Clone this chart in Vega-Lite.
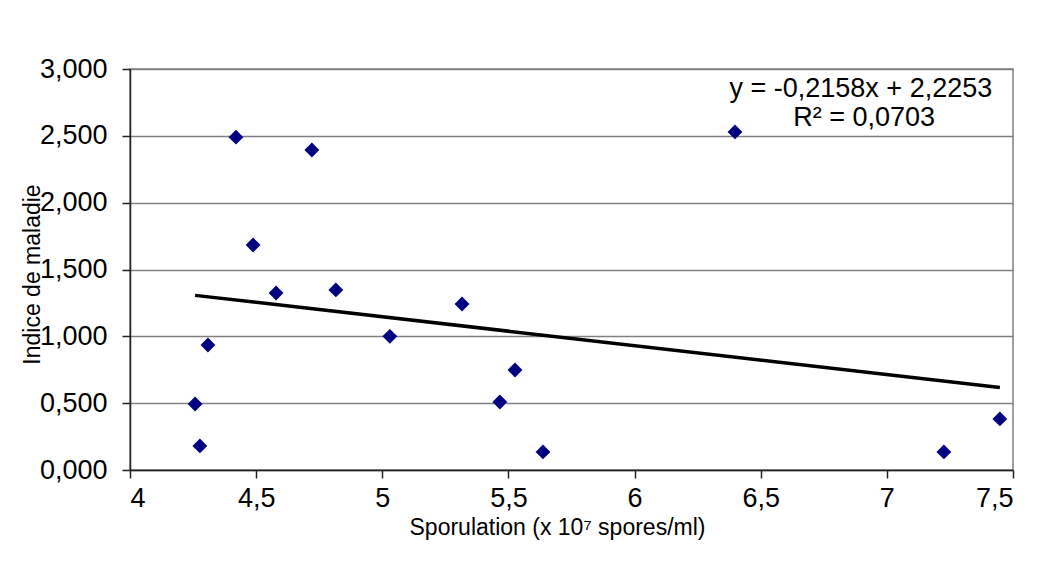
{
  "$schema": "https://vega.github.io/schema/vega-lite/v6.json",
  "autosize": "none",
  "width": 883,
  "height": 401,
  "padding": {"left": 130, "top": 69, "right": 27, "bottom": 93},
  "background": "white",
  "config": {
    "locale": {"number": {"decimal": ",", "thousands": ".", "grouping": [3], "currency": ["", " €"]}},
    "font": "Liberation Sans",
    "view": {"stroke": "#808080", "strokeWidth": 1.5},
    "axis": {
      "labelFont": "Liberation Sans",
      "titleFont": "Liberation Sans",
      "labelColor": "black",
      "titleColor": "black",
      "domainColor": "#222222",
      "domainWidth": 1.5,
      "tickColor": "#222222",
      "tickWidth": 1.5,
      "tickSize": 8,
      "labelFontSize": 27,
      "titleFontSize": 23,
      "titleFontWeight": "normal"
    }
  },
  "datasets": {
    "points": [
      {"sporulation": 4.258, "indice": 0.494},
      {"sporulation": 4.277, "indice": 0.180},
      {"sporulation": 4.309, "indice": 0.935},
      {"sporulation": 4.420, "indice": 2.490},
      {"sporulation": 4.488, "indice": 1.683},
      {"sporulation": 4.579, "indice": 1.324},
      {"sporulation": 4.721, "indice": 2.394},
      {"sporulation": 4.816, "indice": 1.347},
      {"sporulation": 5.030, "indice": 1.000},
      {"sporulation": 5.316, "indice": 1.242},
      {"sporulation": 5.466, "indice": 0.509},
      {"sporulation": 5.526, "indice": 0.748},
      {"sporulation": 5.637, "indice": 0.135},
      {"sporulation": 6.398, "indice": 2.529},
      {"sporulation": 7.226, "indice": 0.135},
      {"sporulation": 7.448, "indice": 0.382}
    ],
    "trend": [
      {"sporulation": 4.258, "indice": 1.3064},
      {"sporulation": 7.448, "indice": 0.6180}
    ],
    "labels": [
      {"sporulation": 6.897, "indice": 2.85, "text": "y = -0,2158x + 2,2253"},
      {"sporulation": 6.91, "indice": 2.633, "text": "R² = 0,0703"}
    ]
  },
  "layer": [
    {
      "data": {"name": "points"},
      "mark": {"type": "point", "shape": "diamond", "filled": true, "color": "#000080", "size": 220, "opacity": 1},
      "encoding": {
        "x": {
          "field": "sporulation", "type": "quantitative",
          "scale": {"domain": [4, 7.5], "nice": false, "zero": false},
          "axis": {
            "values": [4, 4.5, 5, 5.5, 6, 6.5, 7, 7.5],
            "format": ".1~f",
            "grid": false,
            "labelPadding": 7,
            "title": "Sporulation (x 10⁷ spores/ml)",
            "titleX": 427,
            "titleY": 64,
            "titleBaseline": "alphabetic",
            "titleAnchor": null
          }
        },
        "y": {
          "field": "indice", "type": "quantitative",
          "scale": {"domain": [0, 3], "nice": false},
          "axis": {
            "values": [0, 0.5, 1, 1.5, 2, 2.5, 3],
            "format": ".3f",
            "grid": true,
            "gridColor": "#808080",
            "gridWidth": 1.5,
            "labelPadding": 15,
            "title": "Indice de maladie",
            "titleX": -86,
            "titleY": 205,
            "titleAnchor": null
          }
        }
      }
    },
    {
      "data": {"name": "trend"},
      "mark": {"type": "line", "color": "black", "strokeWidth": 3.5},
      "encoding": {
        "x": {"field": "sporulation", "type": "quantitative"},
        "y": {"field": "indice", "type": "quantitative"}
      }
    },
    {
      "data": {"name": "labels"},
      "mark": {"type": "text", "fontSize": 27, "align": "center", "baseline": "middle", "color": "black"},
      "encoding": {
        "x": {"field": "sporulation", "type": "quantitative"},
        "y": {"field": "indice", "type": "quantitative"},
        "text": {"field": "text"}
      }
    }
  ]
}
